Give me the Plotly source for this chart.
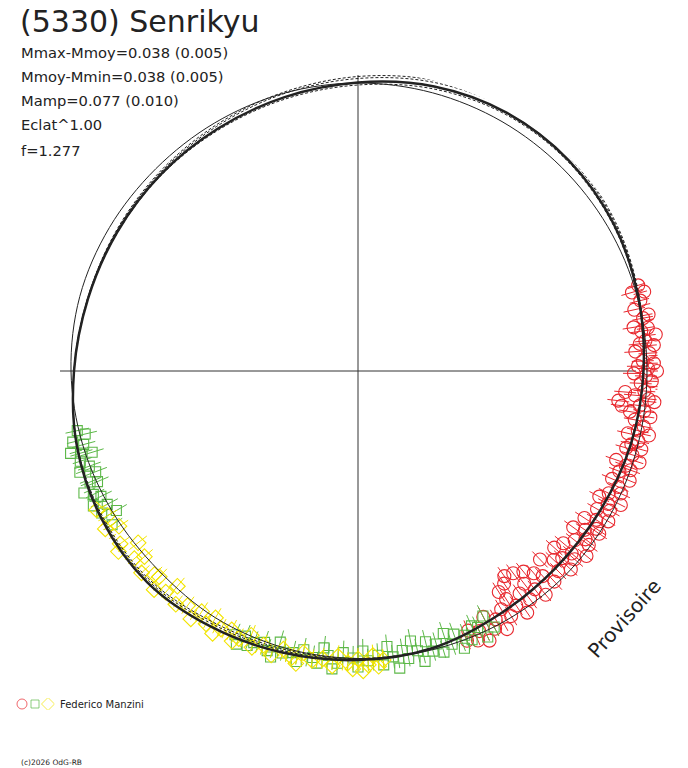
import plotly.graph_objects as go

# courbe de Fourier et courbes annexes (rayon tous les 15 degres)
angles_courbe = list(range(0, 361, 15))
r_fit = [285.5, 290, 295, 298, 298, 294.5, 288.5, 283.5, 280, 278.5, 278, 279.5,
         284, 291, 296, 298.5, 295, 291.5, 289, 287, 281.5, 279, 279.5, 282.5, 285.5]
r_fit_a = [285.5, 290.5, 296.5, 300.5, 301.5, 298.5, 292.5, 287, 282.5, 280, 279, 280,
           284, 291, 295, 296.5, 292, 289.5, 288, 287, 281.5, 279, 279.5, 282.5, 285.5]
r_fit_b = [285.5, 291, 297.5, 302, 303.5, 300.5, 294.5, 288.5, 284, 281, 279.5, 280,
           284, 290.5, 294, 295, 290, 288, 287.5, 286.5, 281.5, 279, 279.5, 282.5, 285.5]
r_fit_c = [285.5, 289.5, 294, 296.5, 296, 292, 286, 281.5, 278.5, 277.5, 277.5, 279.5,
           284, 291, 296, 298.5, 295, 291.5, 289, 287, 281.5, 279, 279.5, 282.5, 285.5]
r_moy = [289, 289, 288.5, 288, 288, 288, 288, 287.5, 286.5, 286, 287, 288,
         287, 285, 283, 282, 285, 286.5, 287.5, 288.5, 290, 291, 290.5, 289.5, 289]

# axes (rayon des demi-axes : droite, haut, gauche, bas)
axes_theta = [0, 90, 180, 270]
axes_r = [278, 296, 298, 292]

# session 1 (rouge)
theta_rouge = [17, 16, 15.5, 14, 13, 12.5, 11, 10.5, 10, 9, 8.5, 8, 7, 6, 5.5, 5, 4, 3.5, 3,
               2.5, 2, 1.5, 1, 0.5, 0, -0.5, -1, -1.5, -2, -2.5, -3, -3.5, -4, -4.5, -5,
               -5.5, -6, -6.5, -7, -7.5, -8, -8.5, -9, -10, -11, -12, -12.5, -13, -14, -15,
               -15.5, -16, -17, -18, -19, -19.5, -20, -21, -22, -23, -24, -25, -26, -27,
               -27.5, -28, -29, -30, -31, -32, -33, -33.5, -34, -35, -36, -36.5, -37, -38,
               -39, -40, -40.5, -41, -42, -42.5, -43, -44, -45, -46, -47, -48, -49, -50,
               -50.5, -51, -52, -52.5, -53, -54, -54.5, -55, -55.5, -56, -57, -57.5, -58,
               -59, -60, -61, -62, -63, -64, -65, -66, -67, -68]
r_rouge = [293, 285, 297, 291, 302, 283, 296, 290, 305, 279, 293, 286, 300, 289, 283, 297,
           278, 292, 302, 305, 285, 296, 280, 290, 299, 276, 288, 306, 294, 283, 301, 309,
           287, 268, 278, 292, 298, 262, 284, 266, 289, 275, 296, 281, 291, 286, 298, 277,
           289, 283, 294, 279, 287, 296, 273, 284, 290, 280, 293, 276, 285, 290, 279, 295,
           272, 283, 288, 276, 292, 281, 270, 286, 291, 277, 266, 283, 289, 275, 294, 268,
           281, 287, 264, 277, 291, 272, 283, 262, 288, 276, 268, 292, 260, 281, 270, 255,
           286, 275, 252, 295, 258, 283, 272, 262, 289, 278, 298, 284, 292, 276, 300, 287,
           295, 282, 291]

# session 2 (vert)
theta_vert = [-62, -63, -64, -65, -66, -67, -68, -69, -70, -71, -72, -73, -74, -75, -76,
              -77, -78, -79, -80, -81, -82, -83, -84, -85, -86, -87, -88, -89, -90, -91,
              -92, -93, -94, -95, -96, -97, -98, -99, -100, -101, -102, -103, -104, -105,
              -106, -107, -108, -109, -110, -111, -112, -113, -114, -115,
              192, 193, 194, 195, 196, 196.5, 197, 198, 199, 199.5, 200, 201, 202, 202.5,
              203, 204, 205, 205.5, 206, 207, 208, 209, 210, 211, 212]
r_vert = [290, 275, 296, 283, 279, 292, 285, 297, 280, 289, 276, 294, 284, 290, 279,
          298, 286, 275, 292, 283, 300, 288, 277, 295, 285, 302, 290, 280, 296, 287,
          305, 282, 293, 299, 286, 279, 295, 290, 303, 284, 297, 289, 306, 292,
          282, 299, 294, 287, 301, 291, 296, 288, 299, 291,
          287, 280, 294, 284, 299, 289, 278, 292, 303, 285, 296, 281, 307, 290,
          283, 300, 292, 309, 286, 297, 284, 293, 279, 301, 290]

# session 3 (jaune)
theta_jaune = [207, 208, 209, 210, 211, 212, 213, 214, 215, 216, 217, 218, 219, 220, 221,
               222, 223, 224, 225, 226, 227, 228, 229, 230, 231, 232, 233, 234, 235, 236,
               237, 238, 239, 240, 241, 242, 243, 244, 245, 246, 247, 248, 249, 250, 251,
               252, 253, 254, 255, 256, 257, 258, 259, 260, 261, 262, 263, 264, 265, 266,
               267, 268, 269, 270, 271, 272, 273, 274, 275]
r_jaune = [312, 296, 304, 289, 308, 298, 285, 303, 311, 294, 300, 279, 306, 292, 283,
           301, 296, 307, 288, 286, 299, 305, 293, 281, 302, 296, 308, 290, 312, 299,
           287, 304, 295, 285, 300, 292, 306, 288, 298, 293, 303, 285, 296, 309, 290,
           302, 297, 316, 288, 305, 294, 299, 287, 312, 293, 301, 290, 306, 296, 286,
           303, 292, 298, 288, 300, 294, 285, 296, 290]

err_rouge = 11
err_vert = 12
err_jaune = 11

ROUGE = "#e8282e"
VERT = "#5cb848"
JAUNE = "#f2e400"
NOIR = "#222222"
FONT = "DejaVu Sans"


def barres(theta, r, err):
    tt, rr = [], []
    for t, v in zip(theta, r):
        tt += [t, t, None]
        rr += [v - err, v + err, None]
    return tt, rr


fig = go.Figure()

# axes en croix
for t, r in zip(axes_theta, axes_r):
    fig.add_trace(go.Scatterpolar(r=[0, r], theta=[t, t], mode="lines",
                                  line=dict(color="#333333", width=1), hoverinfo="skip"))

# points et barres d'erreur
for th, rr, err, col, sym, size in [
    (theta_rouge, r_rouge, err_rouge, ROUGE, "circle-open", 13),
    (theta_vert, r_vert, err_vert, VERT, "square-open", 10),
    (theta_jaune, r_jaune, err_jaune, JAUNE, "diamond-open", 12),
]:
    bt, br = barres(th, rr, err)
    fig.add_trace(go.Scatterpolar(r=br, theta=bt, mode="lines",
                                  line=dict(color=col, width=1), hoverinfo="skip"))
    fig.add_trace(go.Scatterpolar(r=rr, theta=th, mode="markers",
                                  marker=dict(symbol=sym, size=size, color=col,
                                              line=dict(color=col, width=1.1))))

# courbes
fig.add_trace(go.Scatterpolar(r=r_moy, theta=angles_courbe, mode="lines",
                              line=dict(color=NOIR, width=1, shape="spline")))
for rr in [r_fit_a, r_fit_b, r_fit_c]:
    fig.add_trace(go.Scatterpolar(r=rr, theta=angles_courbe, mode="lines",
                                  line=dict(color=NOIR, width=1, shape="spline",
                                            dash="3px,2px")))
fig.add_trace(go.Scatterpolar(r=r_fit, theta=angles_courbe, mode="lines",
                              line=dict(color=NOIR, width=2.5, shape="spline")))

# legende des symboles
fig.add_trace(go.Scatter(x=[0, 1, 2], y=[0, 0, 0], mode="markers", xaxis="x", yaxis="y",
                         marker=dict(symbol=["circle-open", "square-open", "diamond-open"],
                                     size=[10, 8, 10], color=[ROUGE, VERT, JAUNE],
                                     line=dict(width=1))))

W, H = 688, 768
cx, cy, R = 358, 371, 300

annotations = [
    dict(text="(5330) Senrikyu", x=18 / W, y=1 - 21 / H, font=dict(size=30)),
    dict(text="Mmax-Mmoy=0.038 (0.005)", x=19 / W, y=1 - 52 / H, font=dict(size=14.7)),
    dict(text="Mmoy-Mmin=0.038 (0.005)", x=19 / W, y=1 - 76 / H, font=dict(size=14.7)),
    dict(text="Mamp=0.077 (0.010)", x=19 / W, y=1 - 101 / H, font=dict(size=14.7)),
    dict(text="Eclat^1.00", x=19 / W, y=1 - 125 / H, font=dict(size=14.7)),
    dict(text="f=1.277", x=19 / W, y=1 - 150 / H, font=dict(size=14.7)),
    dict(text="Federico Manzini", x=58 / W, y=1 - 704 / H, font=dict(size=10)),
    dict(text="(c)2026 OdG-RB", x=19 / W, y=1 - 762 / H, font=dict(size=7.5)),
]
for a in annotations:
    a.update(xref="paper", yref="paper", xanchor="left", yanchor="middle",
             showarrow=False)
    a["font"].update(family=FONT, color=NOIR)
annotations.append(dict(text="Provisoire", x=624 / W, y=1 - 619 / H, xref="paper",
                        yref="paper", xanchor="center", yanchor="middle",
                        showarrow=False, textangle=-48,
                        font=dict(family=FONT, size=20, color=NOIR)))

fig.update_layout(
    width=W, height=H,
    margin=dict(l=0, r=0, t=0, b=0),
    paper_bgcolor="white",
    plot_bgcolor="white",
    showlegend=False,
    polar=dict(
        domain=dict(x=[(cx - R) / W, (cx + R) / W], y=[(H - cy - R) / H, (H - cy + R) / H]),
        bgcolor="rgba(0,0,0,0)",
        radialaxis=dict(range=[0, R], visible=False, showgrid=False, showline=False,
                        showticklabels=False, ticks=""),
        angularaxis=dict(visible=False, showgrid=False, showline=False,
                         showticklabels=False, ticks="", rotation=0,
                         direction="counterclockwise"),
    ),
    xaxis=dict(domain=[15.5 / W, 54.5 / W], range=[-0.5, 2.5], visible=False,
               fixedrange=True),
    yaxis=dict(domain=[(H - 704 - 6) / H, (H - 704 + 6) / H], range=[-1, 1],
               visible=False, fixedrange=True),
    annotations=annotations,
)

# la page par defaut a une marge de 8px autour du graphique
fig.write_html("out.html", config={"displayModeBar": False},
               post_script="document.body.style.margin='0px';")
